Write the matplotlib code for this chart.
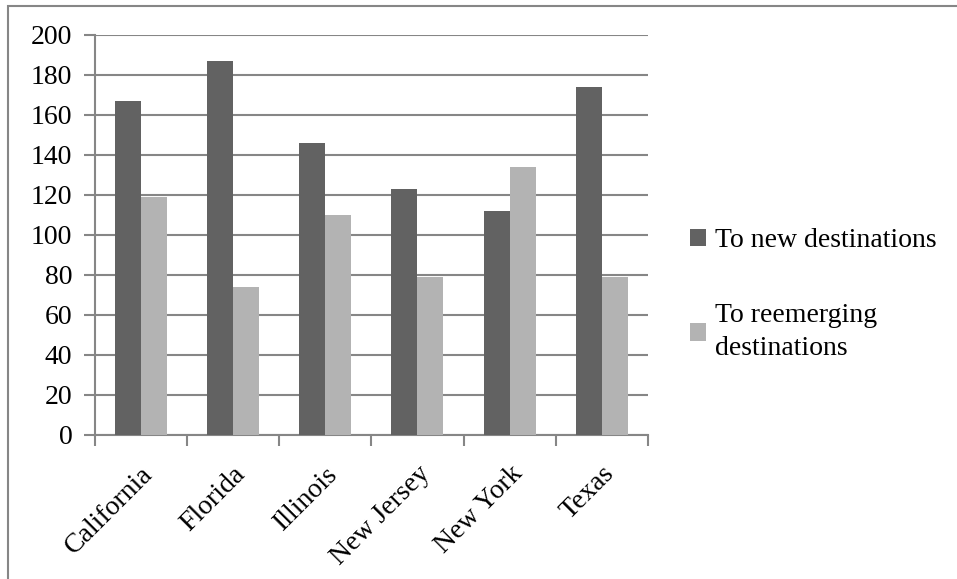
import matplotlib
matplotlib.use("Agg")
from matplotlib import pyplot as plt
from matplotlib.patches import Rectangle
import numpy as np

estados = ['California', 'Florida', 'Illinois', 'New Jersey', 'New York', 'Texas']
nuevos = [167, 187, 146, 123, 112, 174]
reemergentes = [119, 74, 110, 79, 134, 79]
series = ['To new destinations', 'To reemerging\ndestinations']

plt.rcParams['font.family'] = ['Liberation Serif', 'DejaVu Serif']

fig = plt.figure(figsize=(9.57, 5.79), dpi=100)
# marco gris exterior (solo se ven arriba y a la izquierda)
fig.patches.append(Rectangle((8 / 957, -0.1), 1.2, (579 - 6) / 579 + 0.1,
                             transform=fig.transFigure, fill=False,
                             edgecolor='#868686', linewidth=1.5))

ax = fig.add_axes([94.5 / 957, (579 - 435) / 579, (648 - 94.5) / 957, 400 / 579])
x = np.arange(len(estados))
ancho = 0.282
ax.bar(x - ancho / 2, nuevos, ancho, color='#626262', label=series[0], zorder=3)
ax.bar(x + ancho / 2, reemergentes, ancho, color='#b3b3b3', label=series[1], zorder=3)

ax.set_xlim(-0.5, len(estados) - 0.5)
ax.set_ylim(0, 200)
ax.set_yticks(range(0, 201, 20))
ax.yaxis.grid(True, color='#868686', linewidth=1.5, zorder=0)
ax.set_xticks(x)
ax.set_xticklabels(estados, rotation=45, ha='right', va='top',
                   rotation_mode='anchor', fontsize=20)
ax.set_xticks(np.arange(-0.5, len(estados)), minor=True)
ax.tick_params(axis='x', which='major', length=0, pad=19)
ax.tick_params(axis='x', which='minor', length=8, width=1.5, color='#868686')
ax.tick_params(axis='y', length=8, width=1.5, color='#868686', labelsize=20, pad=8)
for lado in ['top', 'right']:
    ax.spines[lado].set_visible(False)
for lado in ['left', 'bottom']:
    ax.spines[lado].set_color('#868686')
    ax.spines[lado].set_linewidth(1.5)

leg = ax.legend(loc='upper left', bbox_to_anchor=(1.075, 0.517), frameon=False,
                fontsize=20, handlelength=0.6, handleheight=0.6, handletextpad=0.3,
                labelspacing=1.8, borderpad=0, borderaxespad=0)
for t in leg.get_texts():
    t.set_linespacing(1.42)

plt.savefig("out.png", dpi=100)
